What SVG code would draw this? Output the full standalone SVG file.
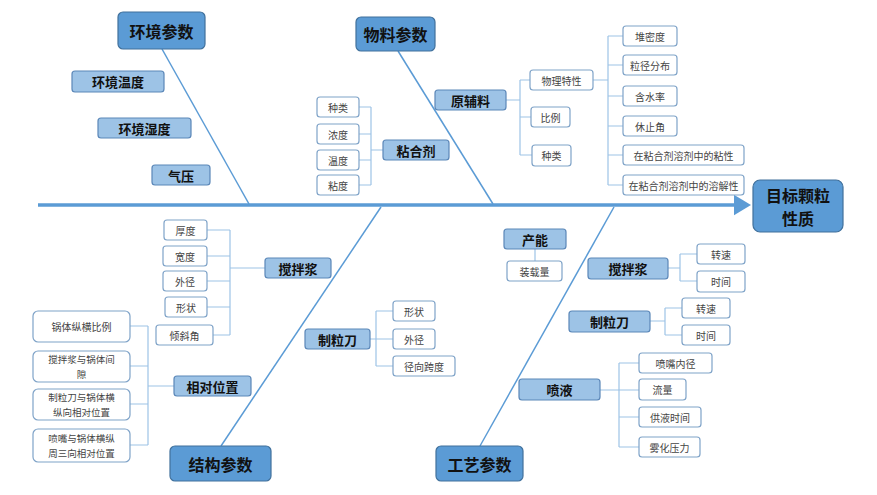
<svg xmlns="http://www.w3.org/2000/svg" width="877" height="495" viewBox="0 0 877 495">
<style>
text{font-family:"Noto Sans CJK SC","Liberation Sans",sans-serif;text-anchor:middle;dominant-baseline:central}
.b rect{fill:#5b9bd5;stroke:#41719c;stroke-width:1.2}
.b text{font-size:16px;font-weight:bold;fill:#111}
.m rect{fill:#9dc3e6;stroke:#5b87b8;stroke-width:1.2}
.m text{font-size:13px;font-weight:bold;fill:#111}
.s rect{fill:#fff;stroke:#7fa3c8;stroke-width:1.2}
.s text{font-size:10px;fill:#444}
.s .t2{font-size:9.5px}
.c{fill:none;stroke:#9dc3e6;stroke-width:1.2}
.bone{stroke:#5b9bd5;stroke-width:1.5}
</style>
<defs><marker id="ah" markerWidth="6" markerHeight="6" refX="1" refY="3" orient="auto" markerUnits="strokeWidth"><path d="M0,0L5,3L0,6z" fill="#5b9bd5"/></marker></defs>
<g id="connectors">
<line x1="38" y1="205" x2="737" y2="205" stroke="#5b9bd5" stroke-width="3.5" marker-end="url(#ah)"/>
<line class="bone" x1="162" y1="49" x2="249" y2="204"/>
<line class="bone" x1="398" y1="51" x2="493" y2="204"/>
<line class="bone" x1="221" y1="446" x2="381" y2="207"/>
<line class="bone" x1="480" y1="446" x2="614" y2="207"/>
<path class="c" d="M359,107H371M359,134H371M359,160H371M359,185H371M371,107V185M371,150H383"/>
<path class="c" d="M506,100H520M520,80V155M520,80H530M520,117H531M520,155H532"/>
<path class="c" d="M593,80H608M608,36V185M608,36H623M608,65H623M608,96H623M608,126H623M608,155H623M608,185H623"/>
<path class="c" d="M207,230H230M207,256H230M207,281H230M207,307H230M213,335H230M230,230V335M230,268H265"/>
<path class="c" d="M130,326H148M130,366H148M130,404H148M130,445H148M148,326V445M148,386H174"/>
<path class="c" d="M370,339H393M376,311V366M376,311H393M376,366H393"/>
<path class="c" d="M535,249V261"/>
<path class="c" d="M668,268H680M680,254V281M680,254H697M680,281H697"/>
<path class="c" d="M650,321H665M665,308V335M665,308H682M665,335H682"/>
<path class="c" d="M600,390H619M619,363V447M619,363H639M619,390H639M619,417H639M619,447H639"/>
</g>
<g id="n-env" class="b"><rect x="118" y="12" width="87" height="37" rx="5"/><text x="161.5" y="30.5">环境参数</text></g>
<g id="n-mat" class="b"><rect x="356" y="17" width="79" height="34" rx="5"/><text x="395.5" y="34">物料参数</text></g>
<g id="n-goal" class="b"><rect x="753" y="180" width="90" height="52" rx="7"/><text x="798" y="195">目标颗粒</text><text x="798" y="218">性质</text></g>
<g id="n-struct" class="b"><rect x="170" y="446" width="101" height="35" rx="5"/><text x="220.5" y="463.5">结构参数</text></g>
<g id="n-proc" class="b"><rect x="436" y="446" width="87" height="35" rx="5"/><text x="479.5" y="463.5">工艺参数</text></g>
<g id="n-m1" class="m"><rect x="72" y="71" width="92" height="21" rx="3"/><text x="118" y="81.5">环境温度</text></g>
<g id="n-m2" class="m"><rect x="98" y="118" width="93" height="20" rx="3"/><text x="144.5" y="128">环境湿度</text></g>
<g id="n-m3" class="m"><rect x="152" y="165" width="58" height="20" rx="3"/><text x="181" y="175">气压</text></g>
<g id="n-m4" class="m"><rect x="383" y="140" width="66" height="20" rx="3"/><text x="416" y="150">粘合剂</text></g>
<g id="n-m5" class="m"><rect x="435" y="90" width="71" height="20" rx="3"/><text x="470.5" y="100">原辅料</text></g>
<g id="n-m6" class="m"><rect x="265" y="258" width="66" height="20" rx="3"/><text x="298" y="268">搅拌浆</text></g>
<g id="n-m7" class="m"><rect x="174" y="376" width="77" height="20" rx="3"/><text x="212.5" y="386">相对位置</text></g>
<g id="n-m8" class="m"><rect x="305" y="329" width="65" height="20" rx="3"/><text x="337.5" y="339">制粒刀</text></g>
<g id="n-m9" class="m"><rect x="504" y="229" width="62" height="20" rx="3"/><text x="535" y="239">产能</text></g>
<g id="n-m10" class="m"><rect x="588" y="258" width="80" height="21" rx="3"/><text x="628" y="268.5">搅拌浆</text></g>
<g id="n-m11" class="m"><rect x="569" y="311" width="81" height="21" rx="3"/><text x="609.5" y="321.5">制粒刀</text></g>
<g id="n-m12" class="m"><rect x="519" y="379" width="81" height="21" rx="3"/><text x="559.5" y="389.5">喷液</text></g>
<g class="s">
<g id="s1"><rect x="317" y="97" width="42" height="20" rx="3"/><text x="338" y="107">种类</text></g>
<g id="s2"><rect x="317" y="124" width="42" height="20" rx="3"/><text x="338" y="134">浓度</text></g>
<g id="s3"><rect x="317" y="150" width="42" height="20" rx="3"/><text x="338" y="160">温度</text></g>
<g id="s4"><rect x="317" y="175" width="42" height="20" rx="3"/><text x="338" y="185">粘度</text></g>
<g id="s5"><rect x="530" y="70" width="63" height="20" rx="3"/><text x="561.5" y="80">物理特性</text></g>
<g id="s6"><rect x="531" y="107" width="39" height="20" rx="3"/><text x="550.5" y="117">比例</text></g>
<g id="s7"><rect x="532" y="145" width="39" height="21" rx="3"/><text x="551.5" y="155.5">种类</text></g>
<g id="s8"><rect x="623" y="26" width="54" height="20" rx="3"/><text x="650" y="36">堆密度</text></g>
<g id="s9"><rect x="623" y="55" width="54" height="20" rx="3"/><text x="650" y="65">粒径分布</text></g>
<g id="s10"><rect x="623" y="86" width="54" height="20" rx="3"/><text x="650" y="96">含水率</text></g>
<g id="s11"><rect x="623" y="116" width="54" height="20" rx="3"/><text x="650" y="126">休止角</text></g>
<g id="s12"><rect x="623" y="145" width="121" height="20" rx="3"/><text x="683.5" y="155">在粘合剂溶剂中的粘性</text></g>
<g id="s13"><rect x="623" y="175" width="121" height="20" rx="3"/><text x="683.5" y="185">在粘合剂溶剂中的溶解性</text></g>
<g id="s14"><rect x="164" y="220" width="43" height="20" rx="3"/><text x="185.5" y="230">厚度</text></g>
<g id="s15"><rect x="163" y="246" width="44" height="20" rx="3"/><text x="185" y="256">宽度</text></g>
<g id="s16"><rect x="163" y="271" width="44" height="20" rx="3"/><text x="185" y="281">外径</text></g>
<g id="s17"><rect x="165" y="297" width="42" height="20" rx="3"/><text x="186" y="307">形状</text></g>
<g id="s18"><rect x="156" y="325" width="57" height="20" rx="3"/><text x="184.5" y="335">倾斜角</text></g>
<g id="s19"><rect x="33" y="311" width="97" height="31" rx="5"/><text x="81.5" y="326.5">锅体纵横比例</text></g>
<g id="s20"><rect x="33" y="351" width="97" height="31" rx="5"/><text class="t2" x="81.5" y="359">搅拌浆与锅体间</text><text class="t2" x="81.5" y="374">隙</text></g>
<g id="s21"><rect x="33" y="389" width="97" height="31" rx="5"/><text class="t2" x="81.5" y="397">制粒刀与锅体横</text><text class="t2" x="81.5" y="412">纵向相对位置</text></g>
<g id="s22"><rect x="33" y="429" width="97" height="33" rx="5"/><text class="t2" x="81.5" y="438">喷嘴与锅体横纵</text><text class="t2" x="81.5" y="453">周三向相对位置</text></g>
<g id="s23"><rect x="393" y="301" width="42" height="20" rx="3"/><text x="414" y="311">形状</text></g>
<g id="s24"><rect x="393" y="329" width="42" height="20" rx="3"/><text x="414" y="339">外径</text></g>
<g id="s25"><rect x="393" y="356" width="62" height="20" rx="3"/><text x="424" y="366">径向跨度</text></g>
<g id="s26"><rect x="507" y="261" width="55" height="20" rx="3"/><text x="534.5" y="271">装载量</text></g>
<g id="s27"><rect x="697" y="244" width="48" height="20" rx="3"/><text x="721" y="254">转速</text></g>
<g id="s28"><rect x="697" y="271" width="48" height="21" rx="3"/><text x="721" y="281.5">时间</text></g>
<g id="s29"><rect x="682" y="298" width="48" height="20" rx="3"/><text x="706" y="308">转速</text></g>
<g id="s30"><rect x="682" y="325" width="48" height="20" rx="3"/><text x="706" y="335">时间</text></g>
<g id="s31"><rect x="639" y="353" width="73" height="20" rx="3"/><text x="675.5" y="363">喷嘴内径</text></g>
<g id="s32"><rect x="639" y="379" width="47" height="21" rx="3"/><text x="662.5" y="389.5">流量</text></g>
<g id="s33"><rect x="639" y="407" width="62" height="20" rx="3"/><text x="670" y="417">供液时间</text></g>
<g id="s34"><rect x="639" y="437" width="61" height="20" rx="3"/><text x="669.5" y="447">雾化压力</text></g>
</g>
</svg>
